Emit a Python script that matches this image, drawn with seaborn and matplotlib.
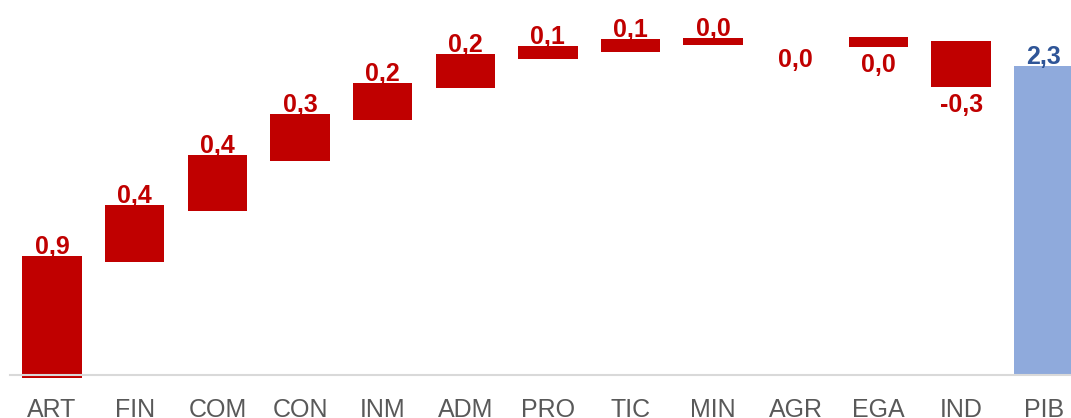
import pandas as pd
import matplotlib.pyplot as plt
import seaborn as sns

# sectores y contribuciones (puntos porcentuales)
sectores = ["ART", "FIN", "COM", "CON", "INM", "ADM", "PRO", "TIC", "MIN", "AGR", "EGA", "IND", "PIB"]
valores = [0.9, 0.4, 0.4, 0.3, 0.2, 0.2, 0.1, 0.1, 0.0, 0.0, 0.0, -0.3, 2.3]
# nivel de inicio y fin de cada barra
inicio = [-0.02, 0.844, 1.223, 1.593, 1.901, 2.135, 2.351, 2.405, 2.457, 2.48, 2.514, 2.489, 0.0]
final = [0.886, 1.266, 1.638, 1.943, 2.176, 2.390, 2.450, 2.500, 2.512, 2.48, 2.445, 2.147, 2.3]

rojo = "#C00000"
azul_barra = "#8FAADC"
azul_texto = "#2F5597"

df = pd.DataFrame({"sector": sectores, "valor": valores, "inicio": inicio, "final": final})
df["altura"] = df["final"] - df["inicio"]

sns.set_theme(style="white")
plt.rcParams["font.family"] = ["Liberation Sans", "DejaVu Sans"]

fig = plt.figure(figsize=(10.71, 4.18), dpi=100)
ax = fig.add_axes([0.0093, 418 / 418 - 379 / 418, 1 - 0.0093, 379 / 418])

sns.barplot(data=df, x="sector", y="altura", order=sectores, bottom=df["inicio"].to_numpy(),
            color=rojo, errorbar=None, width=0.72, saturation=1, ax=ax, linewidth=0)
ax.patches[-1].set_facecolor(azul_barra)

for i, fila in df.iterrows():
    texto = f"{fila['valor']:.1f}".replace(".", ",")
    color = azul_texto if fila["sector"] == "PIB" else rojo
    if fila["altura"] > 0:
        ax.annotate(texto, (i, fila["final"]), xytext=(0, 1.5), textcoords="offset points",
                    ha="center", va="baseline", fontsize=18, fontweight="bold", color=color)
    else:
        ax.annotate(texto, (i, min(fila["inicio"], fila["final"])), xytext=(0, -4.5),
                    textcoords="offset points", ha="center", va="top",
                    fontsize=18, fontweight="bold", color=color)

ax.set_xlim(-0.51, 12.33)
ax.set_ylim(-0.03, 2.792)
ax.set_xlabel("")
ax.set_ylabel("")
ax.set_yticks([])
for lado in ["top", "right", "left"]:
    ax.spines[lado].set_visible(False)
ax.spines["bottom"].set_position(("data", 0))
ax.spines["bottom"].set_color("#D9D9D9")
ax.spines["bottom"].set_linewidth(1.5)
ax.spines["bottom"].set_zorder(5)
ax.tick_params(axis="x", length=0, pad=16.5, labelsize=18, labelcolor="#595959")

fig.savefig("out.png", dpi=100)
